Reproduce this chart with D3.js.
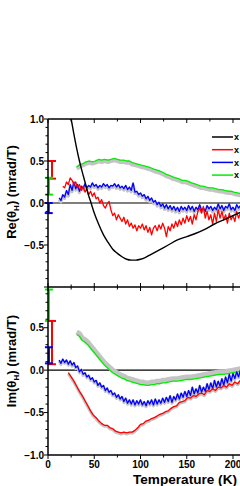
<!DOCTYPE html>
<html>
<head>
<meta charset="utf-8">
<script src="https://cdn.jsdelivr.net/npm/d3@7"></script>
<style>
  body { margin: 0; background: #fff; }
  svg { display: block; font-family: Arial, "Liberation Sans", sans-serif; }
</style>
</head>
<body>
<div id="chart"></div>
<script>
// --- data (T in K, value in mrad/T) ---
const legendNames = ['x', 'x', 'x', 'x'];
const seriesColors = ['#000000', '#ff0000', '#0000ff', '#00ee00'];

const reBlack = [[24,1.05],[25,1.0],[28,0.82],[31,0.65],[34,0.5],[37,0.37],[40,0.25],[43,0.12],[46,0.02],[50,-0.12],[55,-0.26],[60,-0.38],[65,-0.47],[70,-0.55],[75,-0.6],[80,-0.64],[85,-0.67],[90,-0.68],[95,-0.68],[100,-0.67],[105,-0.65],[110,-0.62],[120,-0.56],[130,-0.5],[140,-0.44],[150,-0.4],[160,-0.36],[170,-0.31],[180,-0.25],[190,-0.2],[200,-0.15],[210,-0.1]];

const reRed = [[16,0.2],[18,0.18],[20,0.25],[22,0.22],[24,0.3],[26,0.27],[28,0.22],[30,0.25],[32,0.18],[34,0.22],[36,0.15],[38,0.2],[40,0.13],[42,0.17],[44,0.1],[46,0.14],[48,0.08],[50,0.12],[52,0.05],[54,0.07],[56,0.0],[58,0.04],[60,-0.03],[62,-0.06],[64,-0.01],[66,0.02],[68,-0.08],[70,-0.15],[72,-0.12],[74,-0.2],[76,-0.14],[78,-0.18],[80,-0.22],[82,-0.17],[84,-0.25],[86,-0.2],[88,-0.28],[90,-0.24],[92,-0.3],[94,-0.26],[96,-0.33],[98,-0.27],[100,-0.3],[102,-0.25],[104,-0.32],[106,-0.27],[108,-0.35],[110,-0.29],[112,-0.38],[114,-0.3],[116,-0.27],[118,-0.33],[120,-0.26],[122,-0.31],[124,-0.24],[126,-0.3],[128,-0.4],[130,-0.28],[132,-0.33],[134,-0.25],[136,-0.3],[138,-0.22],[140,-0.28],[142,-0.2],[144,-0.26],[146,-0.18],[148,-0.24],[150,-0.15],[152,-0.22],[154,-0.16],[156,-0.25],[158,-0.14],[160,-0.2],[162,-0.1],[164,-0.06],[166,-0.12],[168,-0.04],[170,-0.18],[172,-0.1],[174,-0.2],[176,-0.14],[178,-0.25],[180,-0.12],[182,-0.22],[184,-0.08],[186,-0.18],[188,-0.1],[190,-0.2],[192,-0.14],[194,-0.24],[196,-0.12],[198,-0.2],[200,-0.15],[202,-0.22],[204,-0.1],[206,-0.18],[208,-0.12],[210,-0.16]];

const reBlue = [[12,0.06],[14,0.03],[16,0.1],[18,0.07],[20,0.15],[22,0.1],[24,0.22],[26,0.15],[28,0.25],[30,0.17],[32,0.22],[34,0.14],[36,0.2],[38,0.17],[40,0.23],[42,0.18],[44,0.21],[46,0.19],[48,0.24],[50,0.2],[52,0.22],[54,0.18],[56,0.21],[58,0.19],[60,0.23],[62,0.2],[64,0.22],[66,0.18],[68,0.21],[70,0.2],[72,0.23],[74,0.19],[76,0.22],[78,0.18],[80,0.2],[82,0.17],[84,0.21],[86,0.16],[88,0.19],[90,0.15],[92,0.24],[94,0.13],[96,0.14],[98,0.1],[100,0.12],[102,0.08],[104,0.1],[106,0.05],[108,0.08],[110,0.03],[112,0.06],[114,0.01],[116,0.03],[118,-0.02],[120,0.01],[122,-0.04],[124,-0.01],[126,-0.06],[128,-0.02],[130,-0.07],[132,-0.03],[134,-0.08],[136,-0.04],[138,-0.09],[140,-0.05],[142,-0.1],[144,-0.04],[146,-0.08],[148,-0.05],[150,-0.09],[152,-0.03],[154,-0.08],[156,-0.04],[158,-0.1],[160,-0.05],[162,-0.08],[164,-0.02],[166,-0.09],[168,-0.06],[170,-0.1],[172,-0.03],[174,-0.07],[176,-0.04],[178,-0.09],[180,-0.05],[182,-0.08],[184,-0.01],[186,-0.07],[188,-0.03],[190,-0.09],[192,-0.04],[194,-0.06],[196,-0.01],[198,-0.08],[200,-0.05],[202,-0.09],[204,-0.02],[206,-0.06],[208,-0.03],[210,-0.07]];

const reGreen = [[31,0.43],[35,0.46],[38,0.47],[41,0.49],[45,0.5],[48,0.49],[51,0.5],[55,0.52],[58,0.51],[61,0.52],[65,0.51],[68,0.52],[72,0.53],[75,0.52],[78,0.51],[82,0.51],[85,0.5],[88,0.5],[91,0.48],[95,0.47],[98,0.46],[101,0.45],[105,0.44],[108,0.43],[111,0.42],[115,0.4],[118,0.39],[121,0.38],[125,0.36],[128,0.34],[131,0.33],[135,0.31],[138,0.3],[141,0.29],[145,0.27],[148,0.27],[151,0.26],[155,0.24],[158,0.23],[161,0.22],[165,0.2],[168,0.2],[171,0.19],[175,0.18],[178,0.18],[181,0.17],[185,0.16],[188,0.16],[191,0.15],[195,0.14],[198,0.14],[201,0.13],[205,0.12],[210,0.11]];

const imRed = [[22,-0.03],[25,-0.08],[28,-0.13],[31,-0.19],[34,-0.25],[37,-0.3],[40,-0.36],[43,-0.42],[46,-0.48],[49,-0.53],[52,-0.56],[55,-0.6],[58,-0.63],[61,-0.65],[64,-0.65],[67,-0.68],[70,-0.69],[73,-0.72],[76,-0.73],[79,-0.74],[82,-0.73],[85,-0.74],[88,-0.73],[91,-0.73],[94,-0.71],[97,-0.68],[100,-0.64],[103,-0.63],[106,-0.6],[109,-0.59],[112,-0.57],[115,-0.56],[118,-0.54],[121,-0.52],[124,-0.51],[127,-0.49],[130,-0.48],[133,-0.45],[136,-0.43],[139,-0.42],[142,-0.38],[145,-0.37],[148,-0.36],[151,-0.32],[154,-0.33],[157,-0.3],[160,-0.31],[163,-0.28],[166,-0.27],[169,-0.29],[172,-0.24],[175,-0.25],[178,-0.22],[181,-0.24],[184,-0.2],[187,-0.21],[190,-0.18],[193,-0.2],[196,-0.16],[199,-0.18],[202,-0.14],[205,-0.16],[208,-0.12],[211,-0.15]];

const imBlue = [[12,0.12],[14,0.08],[16,0.13],[18,0.09],[20,0.12],[22,0.07],[24,0.11],[26,0.06],[28,0.09],[30,0.03],[32,0.05],[34,-0.02],[36,0.01],[38,-0.05],[40,-0.03],[42,-0.08],[44,-0.06],[46,-0.11],[48,-0.09],[50,-0.14],[52,-0.12],[54,-0.18],[56,-0.15],[58,-0.2],[60,-0.18],[62,-0.24],[64,-0.21],[66,-0.26],[68,-0.24],[70,-0.29],[72,-0.27],[74,-0.32],[76,-0.29],[78,-0.34],[80,-0.31],[82,-0.37],[84,-0.33],[86,-0.39],[88,-0.35],[90,-0.4],[92,-0.35],[94,-0.41],[96,-0.36],[98,-0.4],[100,-0.35],[102,-0.41],[104,-0.37],[106,-0.42],[108,-0.36],[110,-0.4],[112,-0.35],[114,-0.41],[116,-0.34],[118,-0.4],[120,-0.35],[122,-0.39],[124,-0.33],[126,-0.38],[128,-0.32],[130,-0.37],[132,-0.3],[134,-0.38],[136,-0.31],[138,-0.35],[140,-0.28],[142,-0.34],[144,-0.27],[146,-0.32],[148,-0.25],[150,-0.31],[152,-0.24],[154,-0.3],[156,-0.2],[158,-0.28],[160,-0.22],[162,-0.27],[164,-0.18],[166,-0.26],[168,-0.2],[170,-0.25],[172,-0.16],[174,-0.23],[176,-0.15],[178,-0.22],[180,-0.12],[182,-0.2],[184,-0.13],[186,-0.19],[188,-0.1],[190,-0.18],[192,-0.08],[194,-0.15],[196,-0.05],[198,-0.13],[200,-0.04],[202,-0.1],[204,-0.02],[206,-0.08],[208,0.0],[210,-0.06]];

const imGreen = [[31,0.42],[34,0.4],[37,0.35],[40,0.33],[43,0.3],[46,0.26],[49,0.22],[52,0.18],[55,0.14],[58,0.1],[61,0.06],[64,0.03],[67,0.0],[70,-0.03],[73,-0.05],[76,-0.07],[79,-0.09],[82,-0.1],[85,-0.12],[88,-0.13],[91,-0.14],[94,-0.15],[97,-0.16],[100,-0.17],[103,-0.17],[106,-0.18],[109,-0.18],[112,-0.17],[115,-0.17],[118,-0.16],[121,-0.16],[124,-0.15],[127,-0.15],[130,-0.14],[135,-0.13],[140,-0.13],[145,-0.12],[150,-0.11],[155,-0.11],[160,-0.1],[165,-0.09],[170,-0.08],[175,-0.07],[180,-0.06],[185,-0.05],[190,-0.05],[195,-0.04],[200,-0.03],[205,-0.02],[210,-0.01]];

// error bars at low T: [T, low, high, colour index]
const reErrBars = [[4.3, 0.29, 0.5, 1], [1, 0.1, 0.3, 3], [0.8, -0.12, 0.0, 2]];
const imErrBars = [[1, 0.58, 0.95, 3], [4.3, 0.07, 0.58, 1], [1, 0.08, 0.27, 2]];

const xMajor = [0, 50, 100, 150, 200];
const reTicks = [-0.5, 0.0, 0.5, 1.0];
const imTicks = [-1.0, -0.5, 0.0, 0.5];

// --- layout ---
const W = 240, H = 486;
const svg = d3.select('#chart').append('svg').attr('width', W).attr('height', H);

const x = d3.scaleLinear().domain([0, 300]).range([48, 48 + 300 * 0.925]);
const yRe = d3.scaleLinear().domain([-1, 1]).range([287, 119]);
const yIm = d3.scaleLinear().domain([-1, 0.98]).range([455, 287]);

function panel(top, bottom, id) {
  svg.append('clipPath').attr('id', id)
    .append('rect').attr('x', 48).attr('y', top).attr('width', W).attr('height', bottom - top);
  return svg.append('g').attr('clip-path', 'url(#' + id + ')');
}

function drawLines(g, y, list) {
  // grey error shadows first
  list.forEach(s => {
    if (s.shade == null) return;
    g.append('path').datum(s.data)
      .attr('fill', 'none').attr('stroke', '#c4c4c4').attr('stroke-width', s.shadeW || 3.5)
      .attr('stroke-linejoin', 'round')
      .attr('d', d3.line().x(d => x(d[0])).y(d => y(d[1] + s.shade)));
  });
  list.forEach(s => {
    const line = d3.line().x(d => x(d[0])).y(d => y(d[1]));
    if (s.smooth) line.curve(d3.curveMonotoneX);
    g.append('path').datum(s.data)
      .attr('fill', 'none').attr('stroke', s.color).attr('stroke-width', s.w || 1.3)
      .attr('stroke-linejoin', 'round')
      .attr('d', line);
  });
}

function errBars(y, bars) {
  bars.forEach(b => {
    const cx = x(b[0]), c = seriesColors[b[3]];
    const g = svg.append('g').attr('stroke', c).attr('stroke-width', 2);
    g.append('line').attr('x1', cx).attr('x2', cx).attr('y1', y(b[1])).attr('y2', y(b[2]));
    [b[1], b[2]].forEach(v => g.append('line')
      .attr('x1', cx - 4).attr('x2', cx + 4).attr('y1', y(v)).attr('y2', y(v)));
  });
}

// top panel: Re
const gRe = panel(119, 287, 'clipRe');
gRe.append('line').attr('x1', 48).attr('x2', W).attr('y1', yRe(0)).attr('y2', yRe(0))
  .attr('stroke', '#000').attr('stroke-width', 1.2);
drawLines(gRe, yRe, [
  { data: reGreen, color: seriesColors[3], shade: -0.022, shadeW: 4 },
  { data: reBlue, color: seriesColors[2], shade: -0.018, shadeW: 3 },
  { data: reRed, color: seriesColors[1] },
  { data: reBlack, color: seriesColors[0], smooth: true, w: 1.4 }
]);

// bottom panel: Im
const gIm = panel(287, 455, 'clipIm');
gIm.append('line').attr('x1', 48).attr('x2', W).attr('y1', yIm(0)).attr('y2', yIm(0))
  .attr('stroke', '#000').attr('stroke-width', 1.2);
drawLines(gIm, yIm, [
  { data: imGreen, color: seriesColors[3], shade: 0.03, shadeW: 5 },
  { data: imBlue, color: seriesColors[2], shade: -0.012, shadeW: 3 },
  { data: imRed, color: seriesColors[1], shade: -0.012, shadeW: 3 }
]);

errBars(yRe, reErrBars);
errBars(yIm, imErrBars);

// frames and axes
const xMinor = d3.range(0, 301, 25);
const yMinor = d3.range(-10, 11).map(d => d / 10);
const axisG = svg.append('g').attr('stroke', '#000');

[119, 287, 455].forEach(py => axisG.append('line')
  .attr('x1', 48).attr('x2', W).attr('y1', py).attr('y2', py).attr('stroke-width', 1.5));
axisG.append('line').attr('x1', 48).attr('x2', 48).attr('y1', 119).attr('y2', 455).attr('stroke-width', 1.5);

xMinor.forEach(t => {
  const px = x(t), major = t % 50 === 0, L = major ? 4 : 2.5;
  axisG.append('line').attr('x1', px).attr('x2', px).attr('y1', 119).attr('y2', 119 + L).attr('stroke-width', 1);
  axisG.append('line').attr('x1', px).attr('x2', px).attr('y1', 287 - L).attr('y2', 287 + L).attr('stroke-width', 1);
  axisG.append('line').attr('x1', px).attr('x2', px).attr('y1', 455).attr('y2', 455 + L).attr('stroke-width', 1);
});
[yRe, yIm].forEach(y => yMinor.forEach(v => {
  if (v > y.domain()[1] + 1e-9) return;
  const major = Math.round(v * 10) % 5 === 0, L = major ? 4 : 2.5;
  axisG.append('line').attr('x1', 48 - L).attr('x2', 48).attr('y1', y(v)).attr('y2', y(v)).attr('stroke-width', 1);
}));

// tick labels
const fmt = d3.format('.1f');
[[yRe, reTicks], [yIm, imTicks]].forEach(([y, ticks]) => {
  svg.append('g').selectAll('text').data(ticks).join('text')
    .attr('x', 44).attr('y', d => y(d)).attr('dy', '0.35em')
    .attr('text-anchor', 'end').attr('font-size', 10).attr('font-weight', 'bold')
    .text(d => fmt(d));
});
svg.append('g').selectAll('text').data(xMajor).join('text')
  .attr('x', d => x(d)).attr('y', 468)
  .attr('text-anchor', 'middle').attr('font-size', 10).attr('font-weight', 'bold')
  .text(d => d);

// axis titles
function yTitle(name, cy) {
  const t = svg.append('text')
    .attr('transform', 'translate(16,' + cy + ') rotate(-90)')
    .attr('text-anchor', 'middle').attr('font-size', 13).attr('font-weight', 'bold');
  t.append('tspan').text(name + '(θ');
  t.append('tspan').attr('font-size', 8).attr('dy', 3).text('H');
  t.append('tspan').attr('dy', -3).text(') (mrad/T)');
}
yTitle('Re', 192);
yTitle('Im', 361);

svg.append('text').attr('x', 133).attr('y', 484)
  .attr('font-size', 13.6).attr('font-weight', 'bold').text('Temperature (K)');

// legend
const legend = svg.append('g');
legendNames.forEach((name, i) => {
  const ly = 137 + i * 12.7;
  legend.append('line').attr('x1', 212).attr('x2', 233).attr('y1', ly).attr('y2', ly)
    .attr('stroke', seriesColors[i]).attr('stroke-width', 1.5);
  legend.append('text').attr('x', 234).attr('y', ly).attr('dy', '0.35em')
    .attr('font-size', 9).attr('font-weight', 'bold').text(name);
});
</script>
</body>
</html>
